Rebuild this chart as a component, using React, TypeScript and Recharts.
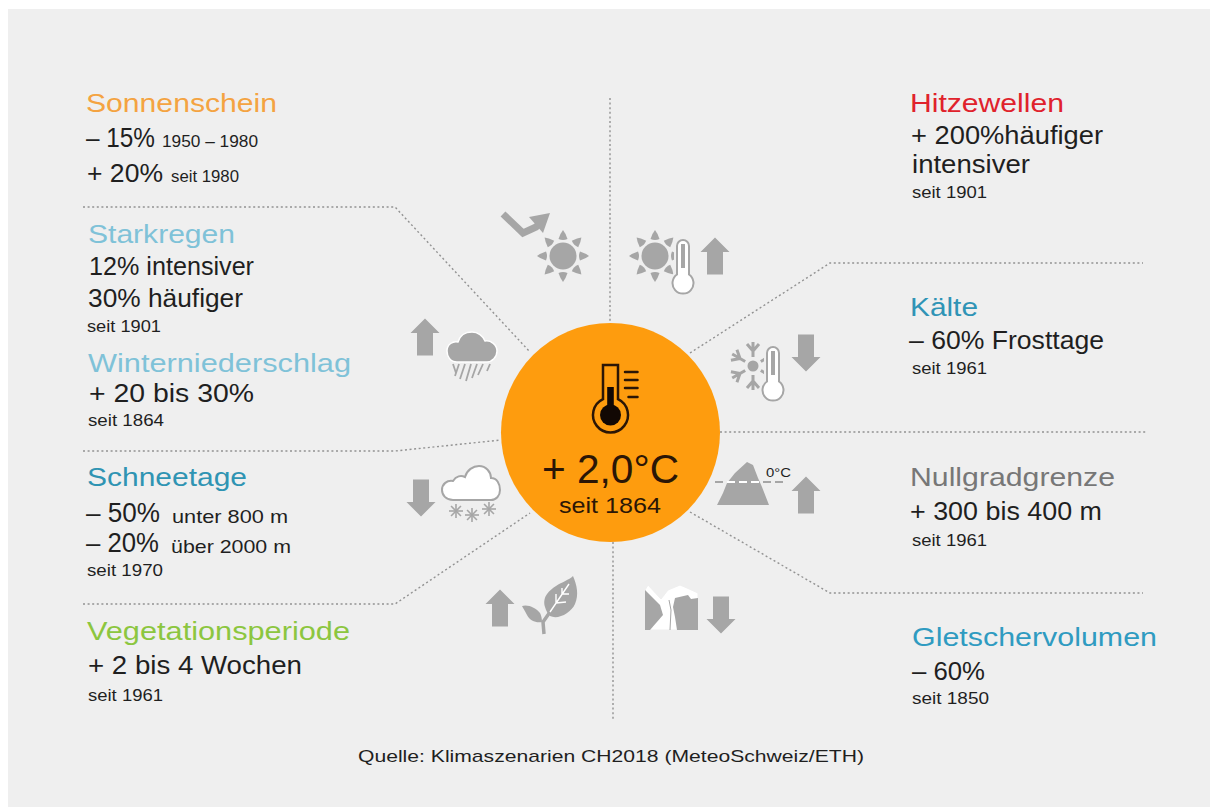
import React from 'react';
import { ScatterChart, Scatter, XAxis, YAxis, ReferenceArea, ReferenceDot } from 'recharts';

const WIDTH = 1210;
const HEIGHT = 807;
const FONT = '"Liberation Sans", Arial, sans-serif';
const GREY = '#a6a6a6';
const PANEL = '#efefef';
const INK = '#1f1f1f';
const CENTER_INK = '#2b1606';

// texts of the picture
const headings = [
  'Sonnenschein', 'Starkregen', 'Winterniederschlag', 'Schneetage', 'Vegetationsperiode',
  'Hitzewellen', 'Kälte', 'Nullgradgrenze', 'Gletschervolumen',
];
const statements = [
  '– 15%', '+ 20%', '12% intensiver', '30% häufiger', '+ 20 bis 30%', '– 50%', '– 20%', '+ 2 bis 4 Wochen',
  '+ 200%häufiger', 'intensiver', '– 60% Frosttage', '+ 300 bis 400 m', '– 60%',
];
const periods = [
  '1950 – 1980', 'seit 1980', 'seit 1901', 'seit 1864', 'unter 800 m', 'über 2000 m', 'seit 1970', 'seit 1961',
  'seit 1901', 'seit 1961', 'seit 1961', 'seit 1850',
];
const source = 'Quelle: Klimaszenarien CH2018 (MeteoSchweiz/ETH)';
const centerTexts = ['+ 2,0°C', 'seit 1864'];
const isotherm = '0°C';

// colours and page layout: x, baseline, font size, width
const headingColors = ['#f4a341', '#7fc2d8', '#7fc2d8', '#2f94b3', '#8cc63f', '#e0222c', '#2f94b6', '#777777', '#2f9bc1'];
const headingBoxes = [
  [86, 112, 26, 191], [88, 243, 26, 147], [88, 372, 26, 263], [87, 486, 26, 160], [87, 640, 26, 263],
  [910, 112, 25, 154], [910, 316, 25, 68], [910, 486, 25, 205], [912, 646, 25, 245],
];
const statementBoxes = [
  [86, 147, 27, 69], [87, 182, 25, 76], [89, 275, 25, 165], [88, 307, 25, 155], [89, 402, 26, 165],
  [86, 522, 27, 74], [86, 552, 27, 73], [88, 674, 25, 214],
  [911, 144, 25, 192], [912, 173, 25, 118], [909, 349, 25, 195], [910, 520, 25, 192], [912, 680, 26, 73],
];
const periodBoxes = [
  [162, 147, 17, 96], [171, 182, 16, 68], [87, 332, 16, 74], [88, 426, 16, 76], [172, 523, 19, 116], [171, 553, 19, 120],
  [87, 576, 16, 76], [88, 701, 16, 75], [912, 198, 16, 75], [912, 374, 16, 75], [912, 546, 16, 75], [912, 704, 16, 77],
];

type Label = { x: number; y: number; text: string; size: number; w: number; color: string };

const zipLabels = (texts: string[], boxes: number[][], color: (i: number) => string): Label[] =>
  texts.map((text, i) => ({ x: boxes[i][0], y: boxes[i][1], size: boxes[i][2], w: boxes[i][3], text, color: color(i) }));

const labels: Label[] = [
  ...zipLabels(headings, headingBoxes, (i) => headingColors[i]),
  ...zipLabels(statements, statementBoxes, () => INK),
  ...zipLabels(periods, periodBoxes, () => INK),
  ...zipLabels([source], [[358, 762, 17, 506]], () => INK),
  ...zipLabels(centerTexts, [[542, 483, 41, 137], [559, 513, 22, 102]], () => CENTER_INK),
  ...zipLabels([isotherm], [[766, 477, 13, 25]], () => INK),
];

// dotted spokes around the centre
const spokes = [
  [{ x: 83, y: 207 }, { x: 395, y: 207 }, { x: 530, y: 352 }],
  [{ x: 83, y: 451 }, { x: 395, y: 451 }, { x: 501, y: 440 }],
  [{ x: 83, y: 604 }, { x: 395, y: 604 }, { x: 530, y: 513 }],
  [{ x: 610, y: 98 }, { x: 610, y: 323 }],
  [{ x: 613, y: 542 }, { x: 613, y: 720 }],
  [{ x: 690, y: 353 }, { x: 830, y: 263 }, { x: 1143, y: 263 }],
  [{ x: 720, y: 432 }, { x: 1147, y: 432 }],
  [{ x: 690, y: 512 }, { x: 830, y: 593 }, { x: 1143, y: 593 }],
];

const upArrows = [{ x: 425, y: 337 }, { x: 715, y: 256 }, { x: 806, y: 495 }, { x: 500, y: 608 }];
const downArrows = [{ x: 806, y: 353 }, { x: 421, y: 498 }, { x: 721, y: 615 }];

const Nothing = () => <g />;

const TextLabel = (props: any) => {
  const { cx, cy, payload } = props;
  return (
    <text
      x={cx}
      y={cy}
      fontFamily={FONT}
      fontSize={payload.size}
      fill={payload.color}
      textLength={payload.w}
      lengthAdjust="spacingAndGlyphs"
    >
      {payload.text}
    </text>
  );
};

const at = (Icon: React.FC) => (props: any) => (
  <g transform={`translate(${props.cx},${props.cy})`}>
    <Icon />
  </g>
);

const Arrow = ({ down }: { down?: boolean }) => (
  <path
    transform={down ? 'scale(1,-1)' : undefined}
    d="M0,-18.5 L14.5,-4 H8 V18.5 H-8 V-4 H-14.5 Z"
    fill={GREY}
  />
);

const Sun = () => (
  <g fill={GREY}>
    <circle r={13.5} />
    {[0, 45, 90, 135, 180, 225, 270, 315].map((a) => (
      <path key={a} transform={`rotate(${a})`} d="M-4.5,-17 Q0,-15 4.5,-17 Q2.5,-23 0,-26 Q-2.5,-23 -4.5,-17 Z" />
    ))}
  </g>
);

const Thermometer = () => {
  const outline = 'M-6,-8.5 V-37 A6,6 0 0 1 6,-37 V-8.5 A10.5,10.5 0 1 1 -6,-8.5 Z';
  return (
    <g>
      <path d={outline} fill="#ffffff" stroke={PANEL} strokeWidth={6} />
      <path d={outline} fill="#ffffff" stroke={GREY} strokeWidth={2} />
      <rect x={-2} y={-39} width={4} height={24} fill={GREY} />
    </g>
  );
};

const Trend = () => (
  <g>
    <path d="M-23,-18 L-3,1 L10,-5 L17,-12" fill="none" stroke={GREY} strokeWidth={7} />
    <path d="M3,-15 L24,-19 L17,1 Z" fill={GREY} />
  </g>
);

const RainCloud = () => (
  <g>
    <path
      d="M-15,15 C-22,15 -25,9 -25,4 C-25,-3 -19,-6 -14,-5 C-12,-12 -6,-15 0,-15 C6,-15 11,-11 13,-6 C19,-7 25,-2 25,4 C25,10 20,15 15,15 Z"
      fill={GREY}
      stroke="#ffffff"
      strokeWidth={1.5}
    />
    <path
      d="M-19,17 l3,9 M-13,17 l-4,12 M-7,17 l-5,15 M-1,17 l-5,17 M5,17 l-5,14 M11,17 l-5,11 M18,17 l-3,7"
      stroke={GREY}
      strokeWidth={1.8}
      fill="none"
    />
  </g>
);

const Snowflake = () => (
  <g stroke={GREY} strokeWidth={3} fill="none">
    <circle r={5.5} fill={GREY} stroke="none" />
    {[0, 60, 120, 180, 240, 300].map((a) => (
      <path key={a} transform={`rotate(${a})`} d="M0,-9 V-24 M0,-15 L-6,-22 M0,-15 L6,-22" />
    ))}
  </g>
);

const Flake = ({ x, y }: { x: number; y: number }) => (
  <g transform={`translate(${x},${y})`} stroke={GREY} strokeWidth={1.6}>
    {[0, 45, 90, 135].map((a) => (
      <path key={a} transform={`rotate(${a})`} d="M0,-7 V7" />
    ))}
  </g>
);

const SnowCloud = () => (
  <g>
    <path
      d="M-18,17 C-25,17 -29,12 -29,7 C-29,1 -24,-3 -18,-2 C-15,-7 -10,-8 -6,-6 C-4,-13 2,-17 8,-17 C15,-17 20,-11 20,-5 C26,-5 29,1 29,7 C29,13 25,17 20,17 Z"
      fill="#ffffff"
      stroke={GREY}
      strokeWidth={2}
    />
    <Flake x={-15} y={28} />
    <Flake x={1} y={32} />
    <Flake x={18} y={26} />
  </g>
);

const Leaf = () => (
  <g>
    <path
      d="M-3,2 C-6,-9 2,-15 8,-19 C14,-23 21,-25 25,-29 C29,-20 31,-10 27,-1 C23,8 10,15 2,11 C0,9 -2,6 -3,2 Z"
      fill={GREY}
    />
    <path d="M-26,1 C-20,-1 -12,3 -8,8 C-6,12 -6,16 -6,17 C-12,18 -18,16 -21,10 C-23,6 -25,3 -26,1 Z" fill={GREY} />
    <path d="M-4,29 L-5,17 L2,7" fill="none" stroke={GREY} strokeWidth={3.5} />
    <path
      d="M2,7 L21,-21 M8,-2 L8,-11 M8,-2 L18,-3 M14,-11 L14,-17 M14,-11 L21,-11"
      fill="none"
      stroke="#ffffff"
      strokeWidth={1.4}
    />
  </g>
);

const Mountain = () => (
  <g>
    <path d="M-30,21 L-24,9 L-20,-1 L-12,-11 L0,-22 L6,-19 L11,-6 L15,3 L22,21 Z" fill={GREY} />
    <path d="M-32,-2 H39" stroke={GREY} strokeWidth={2} strokeDasharray="8 4" />
    <path d="M-20,-2 H12" stroke="#ffffff" strokeWidth={2} strokeDasharray="8 4" />
  </g>
);

const Glacier = () => (
  <g>
    <path
      d="M-26,-18 L-23,-23 L-10,-9 L-3,-18 L9,-23 L16,-20 L27,-15 V22 H-26 Z"
      fill="#ffffff"
      stroke={PANEL}
      strokeWidth={1}
    />
    <path d="M-26,-18 L-11,-3 L-8,7 L-21,22 H-26 Z" fill={GREY} />
    <path d="M4,-10 L17,-13 L20,-9 L27,-10 V22 H6 L4,9 L2,-1 Z" fill={GREY} />
    <path d="M-1,22 L0,2 L-2,-8" fill="none" stroke={GREY} strokeWidth={1} />
  </g>
);

const CenterThermometer = () => (
  <g stroke={CENTER_INK} strokeWidth={2.5} fill="none">
    <path d="M-7.5,-15.8 V-50 H7.5 V-15.8 A17.5,17.5 0 1 1 -7.5,-15.8 Z" />
    <circle r={10.5} fill="#120804" stroke="none" />
    <rect x={-3.3} y={-28} width={6.6} height={24} fill="#120804" stroke="none" />
    <path d="M14.5,-43 H27 M14.5,-35 H27 M14.5,-27 H27 M18,-18 H27" strokeLinecap="round" />
  </g>
);

const icons: { at: { x: number; y: number }; shape: (props: any) => React.ReactElement }[] = [
  { at: { x: 526, y: 232 }, shape: at(Trend) },
  { at: { x: 563, y: 256 }, shape: at(Sun) },
  { at: { x: 655, y: 256 }, shape: at(Sun) },
  { at: { x: 683, y: 283 }, shape: at(Thermometer) },
  { at: { x: 472, y: 347 }, shape: at(RainCloud) },
  { at: { x: 753, y: 366 }, shape: at(Snowflake) },
  { at: { x: 773, y: 390 }, shape: at(Thermometer) },
  { at: { x: 471, y: 483 }, shape: at(SnowCloud) },
  { at: { x: 548, y: 605 }, shape: at(Leaf) },
  { at: { x: 747, y: 484 }, shape: at(Mountain) },
  { at: { x: 671, y: 608 }, shape: at(Glacier) },
  { at: { x: 610.5, y: 415 }, shape: at(CenterThermometer) },
];

const UpArrow = at(() => <Arrow />);
const DownArrow = at(() => <Arrow down />);

export default function App() {
  return (
    <div style={{ position: 'fixed', left: 0, top: 0, width: WIDTH, height: HEIGHT, background: '#ffffff' }}>
      <ScatterChart width={WIDTH} height={HEIGHT} margin={{ top: 0, right: 0, bottom: 0, left: 0 }}>
        <XAxis dataKey="x" type="number" domain={[0, WIDTH]} hide />
        <YAxis dataKey="y" type="number" domain={[0, HEIGHT]} reversed hide />
        <ReferenceArea x1={8} x2={WIDTH} y1={9} y2={HEIGHT} fill={PANEL} fillOpacity={1} stroke="none" />
        {spokes.map((points, i) => (
          <Scatter
            key={i}
            data={points}
            line={{ stroke: '#929292', strokeWidth: 1.4, strokeDasharray: '2 2.6' }}
            shape={Nothing}
            isAnimationActive={false}
          />
        ))}
        <ReferenceDot x={610.5} y={432.5} r={109.5} fill="#fe9c0e" stroke="none" />
        {icons.map((icon, i) => (
          <Scatter key={i} data={[icon.at]} shape={icon.shape} isAnimationActive={false} />
        ))}
        <Scatter data={upArrows} shape={UpArrow} isAnimationActive={false} />
        <Scatter data={downArrows} shape={DownArrow} isAnimationActive={false} />
        <Scatter data={labels} shape={TextLabel} isAnimationActive={false} />
      </ScatterChart>
    </div>
  );
}
